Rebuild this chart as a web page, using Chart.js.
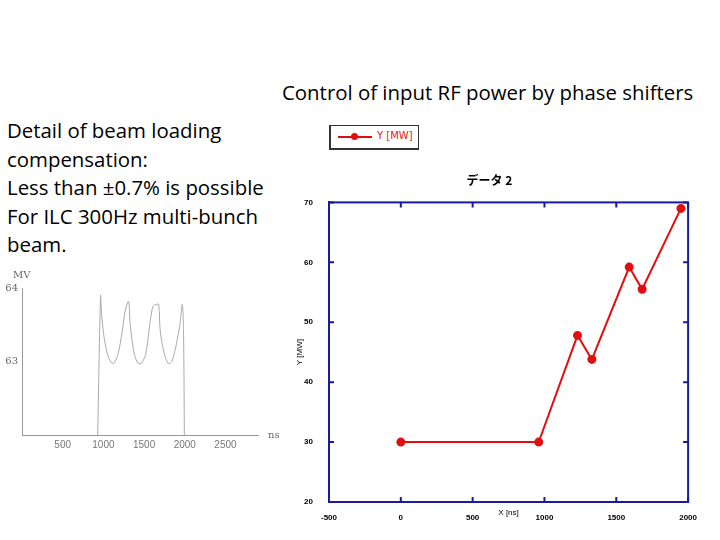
<!DOCTYPE html>
<html>
<head>
<meta charset="utf-8">
<script src="https://cdn.jsdelivr.net/npm/chart.js@4/dist/chart.umd.min.js"></script>
<style>
  body { margin: 0; width: 720px; height: 540px; background: #fff; position: relative; overflow: hidden; font-family: "Open Sans", sans-serif; }
  .abs { position: absolute; }
  #heading { left: 282px; top: 78px; font-size: 20.4px; color: #000; white-space: nowrap; }
  #notes { left: 7px; top: 116px; font-size: 20.4px; line-height: 28.6px; color: #000; white-space: nowrap; }
  #legendBox { left: 329px; top: 125px; width: 87px; height: 22px; border: 1px solid #333; border-bottom-width: 2px; border-left-width: 2px; font-family: "DejaVu Sans", sans-serif; font-size: 10px; color: #e02020; }
</style>
</head>
<body>
<div id="heading" class="abs">Control of input RF power by phase shifters</div>
<div id="notes" class="abs">Detail of beam loading<br>compensation:<br>Less than ±0.7% is possible<br>For ILC 300Hz multi-bunch<br>beam.</div>
<div id="legendBox" class="abs">
  <span style="position:absolute;left:7px;top:10px;width:34px;height:2px;background:#e01010"></span>
  <span style="position:absolute;left:20px;top:7px;width:7px;height:7px;border-radius:50%;background:#e01010"></span>
  <span style="position:absolute;left:46px;top:4px">Y [MW]</span>
</div>
<div class="abs" style="left:0;top:265px;width:290px;height:190px"><canvas id="wave"></canvas></div>
<div class="abs" style="left:290px;top:165px;width:410px;height:360px"><canvas id="power"></canvas></div>
<script>
// left: measured RF waveform (ns, MV)
const waveX = [930, 965, 975, 1000, 1050, 1100, 1130, 1180, 1230, 1270, 1310, 1330, 1380, 1430, 1470, 1520, 1570, 1610, 1660, 1680, 1700, 1750, 1800, 1840, 1890, 1940, 1970, 1985, 1995];
const waveY = [62, 63.9, 63.7, 63.4, 63.1, 62.98, 62.98, 63.1, 63.4, 63.7, 63.82, 63.5, 63.1, 62.97, 62.98, 63.1, 63.5, 63.75, 63.78, 63.78, 63.4, 63.1, 62.97, 63.0, 63.2, 63.5, 63.78, 63.4, 62];
const waveTicksX = [500, 1000, 1500, 2000, 2500];
const waveTicksY = [63, 64];

// right: input power setting (ns, MW)
const powerX = [0, 960, 1230, 1330, 1590, 1680, 1950];
const powerY = [30, 30, 47.8, 43.8, 59.2, 55.5, 69];

const gray = '#999';
const blue = '#1a1aa0';
const plain = v => String(v);

new Chart(document.getElementById('wave'), {
  type: 'line',
  data: { datasets: [{ data: waveX.map((x, i) => ({ x, y: waveY[i] })), borderColor: '#aaa', borderWidth: 1, pointRadius: 0, tension: 0.3 }] },
  options: {
    responsive: true, maintainAspectRatio: false, animation: false,
    layout: { padding: { top: 23, right: 32, left: 0, bottom: 0 } },
    plugins: { legend: { display: false }, tooltip: { enabled: false } },
    scales: {
      x: {
        type: 'linear', min: 0, max: 2900,
        afterBuildTicks: s => { s.ticks = waveTicksX.map(v => ({ value: v })); },
        grid: { display: false, drawTicks: false }, border: { color: gray },
        ticks: { color: '#777', font: { size: 10 }, padding: 4, callback: plain },
        afterFit: s => { s.height = 20; }
      },
      y: {
        min: 62, max: 64,
        afterBuildTicks: s => { s.ticks = waveTicksY.map(v => ({ value: v })); },
        grid: { display: false, drawTicks: false }, border: { color: gray },
        ticks: { color: '#666', font: { size: 10, family: '"DejaVu Serif", serif' }, padding: 4, callback: plain },
        afterFit: s => { s.width = 22; }
      }
    }
  },
  plugins: [{
    id: 'units',
    afterDraw(c) {
      const ctx = c.ctx, a = c.chartArea;
      ctx.save();
      ctx.fillStyle = '#666'; ctx.font = '10px "DejaVu Serif", serif';
      ctx.fillText('MV', 13, a.top - 10);
      ctx.fillText('ns', a.right + 10, a.bottom + 3);
      ctx.restore();
    }
  }]
});

new Chart(document.getElementById('power'), {
  type: 'line',
  data: { datasets: [{ label: 'Y [MW]', data: powerX.map((x, i) => ({ x, y: powerY[i] })), borderColor: '#e01010', backgroundColor: '#e01010', borderWidth: 2, pointRadius: 3.5 }] },
  options: {
    responsive: true, maintainAspectRatio: false, animation: false,
    layout: { padding: { top: 0, right: 11, left: 0, bottom: 0 } },
    plugins: {
      legend: { display: false }, tooltip: { enabled: false },
      title: { display: true, text: 'データ 2', color: '#000', font: { family: '"Noto Sans CJK JP"', size: 12, weight: 'bold' }, padding: { top: 8, bottom: 15 } }
    },
    scales: {
      x: {
        type: 'linear', min: -500, max: 2000,
        ticks: { stepSize: 500, color: '#000', font: { size: 8, weight: 'bold' }, padding: 3, callback: plain },
        grid: { display: false }, border: { color: blue, width: 2 },
        afterFit: s => { s.height = 23; }
      },
      y: {
        min: 20, max: 70,
        ticks: { stepSize: 10, color: '#000', font: { size: 8, weight: 'bold' }, padding: 8, callback: plain },
        grid: { display: false }, border: { color: blue, width: 2 },
        afterFit: s => { s.width = 39; }
      }
    }
  },
  plugins: [{
    id: 'frame',
    afterDraw(c) {
      const ctx = c.ctx, a = c.chartArea, sx = c.scales.x, sy = c.scales.y;
      ctx.save();
      ctx.strokeStyle = blue; ctx.lineWidth = 2;
      ctx.strokeRect(a.left, a.top, a.right - a.left, a.bottom - a.top);
      ctx.beginPath();
      sx.ticks.forEach(t => {
        const p = sx.getPixelForValue(t.value);
        ctx.moveTo(p, a.bottom); ctx.lineTo(p, a.bottom - 5);
        ctx.moveTo(p, a.top); ctx.lineTo(p, a.top + 5);
      });
      sy.ticks.forEach(t => {
        const p = sy.getPixelForValue(t.value);
        ctx.moveTo(a.left, p); ctx.lineTo(a.left + 5, p);
        ctx.moveTo(a.right, p); ctx.lineTo(a.right - 5, p);
      });
      ctx.stroke();
      ctx.fillStyle = '#000'; ctx.font = '8px sans-serif'; ctx.textAlign = 'center';
      ctx.fillText('X [ns]', (a.left + a.right) / 2, a.bottom + 13);
      ctx.translate(12, (a.top + a.bottom) / 2);
      ctx.rotate(-Math.PI / 2);
      ctx.fillText('Y [MW]', 0, 0);
      ctx.restore();
    }
  }]
});
</script>
</body>
</html>
